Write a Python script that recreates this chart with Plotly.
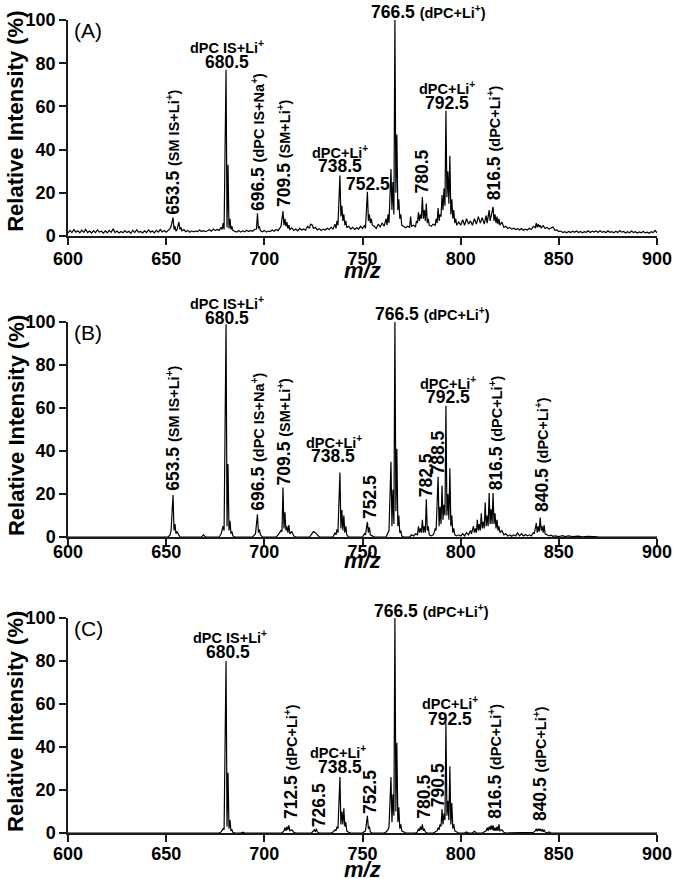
import plotly.graph_objects as go

FONT = 'Liberation Sans, Arial, Helvetica, sans-serif'

# ---------------------------------------------------------------------------
# (A) profile spectrum: m/z and relative intensity (%)
# ---------------------------------------------------------------------------
mz_a = [
    600, 601, 602, 603, 604, 605, 606, 607, 608, 609,
    610, 611, 612, 613, 614, 615, 616, 617, 618, 619,
    620, 621, 622, 623, 624, 625, 626, 627, 628, 629,
    630, 631, 632, 633, 634, 635, 636, 637, 638, 639,
    640, 641, 642, 643, 644, 645, 646, 647, 648, 649,
    650, 651, 652, 652.5, 653.5, 654, 654.5, 655, 655.5, 656.5,
    657, 657.5, 658, 659, 660, 661, 662, 663, 664, 665,
    666, 667, 668, 669, 670, 671, 672, 673, 674, 675,
    676, 677, 678, 678.5, 679, 679.5, 680.5, 681, 681.5, 682,
    682.5, 683, 683.5, 684, 685, 686, 687, 688, 689, 690,
    691, 692, 693, 694, 695, 696, 696.5, 697, 697.5, 698,
    699, 700, 701, 702, 703, 704, 705, 706, 707, 708,
    708.5, 709.5, 710, 710.5, 711, 711.5, 712, 712.5, 713, 714,
    715, 716, 717, 718, 719, 720, 721, 722, 723, 723.5,
    724.5, 725, 726, 727, 728, 729, 730, 731, 732, 733,
    734, 735, 736, 736.5, 737, 737.5, 738.5, 739, 739.5, 740,
    740.5, 741, 741.5, 742, 743, 744, 745, 746, 747, 748,
    749, 750, 751, 751.5, 752.5, 753, 753.5, 754, 754.5, 755,
    756, 757, 758, 759, 760, 761, 762, 762.5, 763, 763.5,
    764.5, 765, 765.5, 766, 766.5, 767, 767.5, 768, 768.5, 769,
    769.5, 770, 771, 772, 773, 774, 774.5, 775, 776, 777,
    777.5, 778, 778.5, 779, 779.5, 780, 780.5, 781, 781.5, 782,
    782.5, 783, 783.5, 784, 785, 786, 787, 787.5, 788, 788.5,
    789, 789.5, 790, 790.5, 791, 791.5, 792, 792.5, 793, 793.5,
    794, 794.5, 795, 795.5, 796, 796.5, 797, 797.5, 798, 799,
    800, 801, 802, 803, 804, 805, 806, 807, 808, 809,
    810, 811, 812, 813, 813.5, 814.5, 815, 815.5, 816.5, 817,
    817.5, 818, 818.5, 819, 819.5, 820, 821, 822, 823, 824,
    825, 826, 827, 828, 829, 830, 831, 832, 833, 834,
    835, 836, 837, 838, 838.5, 839, 839.5, 840, 840.5, 841,
    842, 843, 844, 845, 846, 847, 848, 849, 850, 851,
    852, 853, 854, 855, 856, 857, 858, 859, 860, 861,
    862, 863, 864, 865, 866, 867, 868, 869, 870, 871,
    872, 873, 874, 875, 876, 877, 878, 879, 880, 881,
    882, 883, 884, 885, 886, 887, 888, 889, 890, 891,
    892, 893, 894, 895, 896, 897, 898, 899, 900,
]
int_a = [
    1.4, 2.6, 1.6, 3.0, 1.8, 2.4, 1.5, 2.7, 1.7, 3.1,
    1.6, 2.3, 1.4, 2.5, 1.6, 2.8, 1.8, 2.2, 1.3, 2.4,
    1.5, 2.6, 1.7, 3.3, 1.6, 2.3, 1.4, 2.1, 1.5, 2.5,
    1.6, 2.2, 1.3, 2.7, 1.6, 2.9, 1.7, 2.1, 1.4, 2.4,
    1.6, 2.8, 1.8, 2.3, 1.5, 2.6, 1.8, 3.0, 1.9, 2.5,
    1.8, 2.6, 3.5, 4.5, 8.5, 3.0, 4.5, 2.2, 2.8, 6.5,
    3.0, 4.0, 2.4, 3.0, 2.0, 2.6, 1.8, 2.4, 1.9, 2.3,
    2.0, 2.8, 2.1, 2.5, 2.0, 2.4, 2.9, 2.2, 3.2, 2.5,
    3.0, 2.6, 4.0, 3.0, 6.0, 3.0, 77, 4.0, 33, 3.5,
    8.0, 3.0, 4.5, 2.5, 2.2, 1.8, 2.5, 1.8, 2.4, 2.0,
    2.7, 2.1, 2.6, 2.2, 3.0, 3.2, 10.5, 3.5, 4.5, 2.5,
    2.0, 2.6, 1.8, 2.3, 2.0, 2.8, 2.2, 3.0, 2.5, 3.5,
    4.5, 11.5, 5.0, 8.0, 4.5, 6.5, 3.5, 5.0, 3.0, 3.8,
    2.6, 3.2, 2.4, 3.5, 2.8, 3.3, 2.7, 4.5, 3.5, 5.5,
    5.0, 3.5, 4.0, 2.8, 3.4, 2.6, 3.2, 2.8, 3.6, 3.0,
    4.0, 3.2, 5.5, 3.5, 7.0, 5.0, 28, 9.0, 14, 7.0,
    10, 5.0, 7.0, 4.0, 4.5, 3.2, 4.0, 3.0, 3.8, 3.2,
    4.5, 3.5, 5.0, 3.5, 20.5, 7.0, 10, 6.0, 8.0, 5.0,
    4.5, 3.5, 5.5, 4.2, 6.0, 4.5, 8.0, 5.0, 10, 6.0,
    31, 12, 25, 10, 100, 20, 47, 12, 17, 8.0,
    10, 5.0, 4.5, 3.8, 4.5, 4.0, 9.0, 4.5, 5.0, 4.2,
    7.0, 6.0, 11, 7.0, 10, 8.0, 18, 8.0, 12, 7.0,
    15, 6.0, 8.0, 5.0, 4.5, 5.5, 5.0, 8.0, 6.0, 13,
    7.0, 10, 9.0, 19, 12, 22, 14, 58, 18, 30,
    15, 37, 10, 17, 8.0, 12, 6.0, 8.0, 5.0, 6.5,
    5.0, 7.5, 5.0, 8.0, 5.5, 7.0, 5.0, 8.0, 5.5, 9.0,
    6.0, 8.5, 5.5, 9.5, 6.0, 12, 7.0, 9.0, 13.5, 7.0,
    10, 6.0, 9.0, 5.5, 8.0, 5.0, 6.5, 4.0, 4.5, 3.5,
    4.0, 3.2, 3.6, 3.0, 3.4, 2.8, 3.5, 2.7, 3.2, 2.8,
    3.6, 3.0, 4.5, 3.8, 6.0, 4.0, 5.5, 4.2, 5.0, 3.8,
    4.8, 3.5, 4.0, 3.2, 3.6, 4.2, 2.6, 2.8, 2.0, 2.3,
    1.6, 2.0, 1.5, 2.1, 1.6, 2.2, 1.7, 2.3, 1.6, 2.1,
    1.5, 2.0, 1.7, 2.4, 1.6, 2.2, 1.8, 2.3, 1.6, 2.5,
    1.7, 2.1, 1.5, 2.4, 1.7, 2.0, 1.5, 2.2, 1.6, 2.5,
    1.8, 2.1, 1.4, 2.0, 1.5, 2.3, 1.6, 2.0, 1.4, 1.9,
    1.5, 2.1, 1.5, 1.8, 1.3, 2.0, 1.6, 2.6, 1.5,
]

# ---------------------------------------------------------------------------
# (B)
# ---------------------------------------------------------------------------
mz_b = [
    600, 651, 652, 652.5, 653.5, 654, 654.5, 655, 655.5, 656.5,
    657, 668, 669, 670, 677, 678, 678.5, 679, 679.5, 680.5,
    681, 681.5, 682, 682.5, 683, 683.5, 684, 685, 694, 695,
    695.5, 696.5, 697, 697.5, 698, 699, 706, 707, 708, 708.5,
    709, 709.5, 710, 710.5, 711, 711.5, 712, 712.5, 713, 714,
    715, 716, 723, 724, 725, 726, 727, 728, 735, 736,
    736.5, 737, 737.5, 738.5, 739, 739.5, 740, 740.5, 741, 741.5,
    742, 743, 750, 751, 751.5, 752.5, 753, 753.5, 754, 755,
    756, 762, 762.5, 763, 763.5, 764.5, 765, 765.5, 766, 766.5,
    767, 767.5, 768, 768.5, 769, 769.5, 770, 771, 774, 775,
    776, 777, 778, 778.5, 779, 779.5, 780, 780.5, 781, 781.5,
    782, 782.5, 783, 783.5, 784, 785, 786, 786.5, 787, 787.5,
    788.5, 789, 789.5, 790, 790.5, 791, 791.5, 792, 792.5, 793,
    793.5, 794, 794.5, 795, 795.5, 796, 796.5, 797, 798, 799,
    800, 801, 802, 803, 804, 805, 805.5, 806.5, 807, 807.5,
    808, 808.5, 809, 809.5, 810, 810.5, 811, 811.5, 812, 812.5,
    813, 813.5, 814, 814.5, 815, 815.5, 816, 816.5, 817, 817.5,
    818, 818.5, 819, 819.5, 820, 821, 822, 823, 824, 825,
    826, 827, 828, 829, 830, 831, 832, 833, 834, 835,
    836, 837, 837.5, 838.5, 839, 839.5, 840, 840.5, 841, 841.5,
    842, 842.5, 843, 844, 845, 846, 847, 848, 850, 852,
    853, 855, 857, 860, 862, 865, 870, 900,
]
int_b = [
    0, 0, 1.0, 3.0, 19.5, 3.0, 6.0, 1.5, 2.5, 1.0,
    0, 0, 1.0, 0, 0, 1.5, 3.0, 5.0, 3.0, 99,
    5.0, 34, 3.0, 7.5, 1.5, 2.5, 0.5, 0, 0, 0.8,
    1.5, 10.5, 2.0, 3.5, 1.0, 0, 0, 1.0, 2.0, 3.0,
    2.5, 23, 4.0, 11.5, 3.0, 5.0, 2.0, 5.5, 1.5, 2.5,
    0.5, 0, 0, 1.5, 2.5, 2.0, 1.0, 0, 0, 2.0,
    1.0, 3.5, 2.0, 30, 4.0, 12.5, 3.0, 10, 2.0, 5.0,
    1.0, 0, 0, 1.5, 1.0, 7.0, 2.0, 4.5, 1.0, 0.5,
    0, 0, 1.0, 2.0, 3.0, 35, 5.0, 22, 6.0, 100,
    12, 41, 5.0, 10, 2.0, 3.0, 0.5, 0, 0, 1.0,
    0.5, 1.5, 1.0, 5.0, 2.0, 4.0, 2.0, 8.0, 2.0, 5.0,
    2.0, 17.5, 3.0, 5.0, 1.0, 0.5, 1.0, 2.0, 4.0, 3.0,
    28, 5.0, 14, 6.0, 24, 8.0, 15, 10, 61, 10,
    20, 8.0, 32, 5.0, 10, 2.0, 4.0, 1.0, 0.5, 1.0,
    0.5, 1.5, 0.5, 2.0, 1.0, 3.0, 1.5, 5.0, 2.0, 4.0,
    2.0, 8.0, 3.0, 6.0, 3.0, 11, 4.0, 7.0, 4.0, 16,
    5.0, 10, 5.0, 20.5, 6.0, 13, 6.0, 20.5, 6.0, 11,
    4.0, 8.0, 3.0, 5.0, 2.0, 3.0, 1.0, 1.5, 0.5, 1.0,
    0.3, 1.0, 0.5, 1.8, 0.5, 1.5, 0.5, 1.2, 0.5, 1.0,
    0.5, 2.0, 1.5, 6.5, 2.0, 5.0, 2.5, 9.0, 3.0, 5.0,
    2.0, 5.5, 1.5, 1.0, 0.5, 0.8, 0.3, 0.5, 0.2, 0.6,
    0.2, 0.5, 0.2, 0.4, 0.1, 0.3, 0.1, 0,
]

# ---------------------------------------------------------------------------
# (C)
# ---------------------------------------------------------------------------
mz_c = [
    600, 677, 678, 679, 679.5, 680.5, 681, 681.5, 682, 682.5,
    683, 683.5, 684, 685, 688, 689, 690, 709, 710, 710.5,
    711, 711.5, 712, 712.5, 713, 714, 715, 716, 724, 725.5,
    726, 726.5, 727, 728, 734, 735, 736, 736.5, 737, 737.5,
    738.5, 739, 739.5, 740, 740.5, 741, 741.5, 742, 743, 744,
    750, 751, 751.5, 752.5, 753, 753.5, 754, 755, 761, 762,
    763, 763.5, 764.5, 765, 765.5, 766, 766.5, 767, 767.5, 768,
    768.5, 769, 769.5, 770, 771, 772, 777, 778, 778.5, 779,
    779.5, 780, 780.5, 781, 781.5, 782, 783, 786, 787, 788,
    788.5, 789, 789.5, 790, 790.5, 791, 791.5, 792, 792.5, 793,
    793.5, 794, 794.5, 795, 795.5, 796, 796.5, 797, 798, 799,
    802, 803, 804, 806, 807, 808, 811, 812, 813, 813.5,
    814, 814.5, 815, 815.5, 816, 816.5, 817, 817.5, 818, 818.5,
    819, 819.5, 820, 821, 822, 823, 836, 837, 838, 838.5,
    839, 839.5, 840, 840.5, 841, 841.5, 842, 842.5, 843, 844,
    845, 846, 900,
]
int_c = [
    0, 0, 0.5, 2.0, 1.5, 80, 3.0, 28, 2.0, 6.0,
    1.0, 1.5, 0.3, 0, 0, 0.4, 0, 0, 1.0, 2.5,
    1.0, 3.0, 1.5, 3.5, 1.0, 1.5, 0.3, 0, 0, 1.5,
    0.5, 2.0, 0.5, 0, 0, 0.5, 1.5, 1.0, 3.0, 2.0,
    26, 4.0, 10, 4.0, 11.5, 3.0, 5.0, 1.0, 0.3, 0,
    0, 0.5, 1.0, 8.0, 2.0, 3.0, 0.5, 0, 0, 0.5,
    1.5, 3.0, 26, 5.0, 18, 8.0, 100, 10, 42, 5.0,
    12, 2.0, 4.0, 1.0, 0.5, 0, 0, 0.5, 2.0, 1.0,
    3.0, 1.5, 4.0, 1.0, 2.0, 0.5, 0, 0, 0.5, 1.0,
    2.5, 1.5, 4.0, 3.0, 11, 4.0, 9.0, 6.0, 51, 8.0,
    15, 6.0, 31, 4.0, 14, 2.0, 4.0, 1.0, 0.5, 0,
    0, 0.5, 0, 0, 0.8, 0, 0, 0.5, 1.0, 2.5,
    1.0, 3.0, 1.5, 3.5, 1.5, 3.5, 1.0, 2.5, 1.0, 3.0,
    1.0, 4.0, 1.0, 1.5, 0.3, 0, 0, 0.3, 1.0, 2.0,
    0.8, 2.0, 1.0, 2.0, 0.8, 1.8, 0.6, 1.5, 0.5, 0,
    0.5, 0, 0,
]

x_ticks = [600, 650, 700, 750, 800, 850, 900]
y_ticks = [0, 20, 40, 60, 80, 100]

assert len(mz_a) == len(int_a)
assert len(mz_b) == len(int_b)
assert len(mz_c) == len(int_c)

####################################################################################
# LABELS (text, anchor m/z, anchor intensity in %)
####################################################################################

LI = 'Li<sup>+</sup>'
NA = 'Na<sup>+</sup>'
NOTE_SIZE = 14.5

# horizontal, centred
center_labels = {
    'a': [('dPC IS+' + LI, 681, 87.5, NOTE_SIZE), ('680.5', 681, 80.5, 17.5),
          ('dPC+' + LI, 738.7, 38.9, NOTE_SIZE), ('738.5', 738.7, 32.6, 17.5),
          ('752.5', 752.6, 24, 17.5),
          ('dPC+' + LI, 793.2, 68.7, NOTE_SIZE), ('792.5', 793.2, 61.8, 17.5)],
    'b': [('dPC IS+' + LI, 681.2, 109, NOTE_SIZE), ('680.5', 681.2, 102, 17.5),
          ('dPC+' + LI, 735.4, 44, NOTE_SIZE), ('738.5', 735, 37.7, 17.5),
          ('dPC+' + LI, 793.3, 71.6, NOTE_SIZE), ('792.5', 793.3, 64.9, 17.5)],
    'c': [('dPC IS+' + LI, 682.5, 91.2, NOTE_SIZE), ('680.5', 681.5, 84, 17.5),
          ('dPC+' + LI, 737.5, 37.7, NOTE_SIZE), ('738.5', 738.3, 30.5, 17.5),
          ('dPC+' + LI, 794.8, 60.5, NOTE_SIZE), ('792.5', 794.6, 53, 17.5)],
}

# horizontal, left anchored (number + note)
left_labels = {
    'a': [('766.5', '(dPC+' + LI + ')', 753.3, 103.5)],
    'b': [('766.5', '(dPC+' + LI + ')', 755.4, 103.7)],
    'c': [('766.5', '(dPC+' + LI + ')', 754.9, 103.3)],
}

# rotated, bottom anchored (number, note, m/z, intensity of the text bottom)
vertical_labels = {
    'a': [('653.5', '(SM IS+' + LI + ')', 653.7, 9.4),
          ('696.5', '(dPC IS+' + NA + ')', 696.5, 11.3),
          ('709.5', '(SM+' + LI + ')', 710.0, 13),
          ('780.5', '', 780.1, 19),
          ('816.5', '(dPC+' + LI + ')', 817.0, 15.9)],
    'b': [('653.5', '(SM IS+' + LI + ')', 653.7, 21),
          ('696.5', '(dPC IS+' + NA + ')', 696.8, 11.8),
          ('709.5', '(SM+' + LI + ')', 710.5, 23.5),
          ('752.5', '', 753.8, 7.9),
          ('782.5', '', 782.4, 18.1),
          ('788.5', '', 788.7, 28.8),
          ('816.5', '(dPC+' + LI + ')', 818.0, 21),
          ('840.5', '(dPC+' + LI + ')', 841.7, 11.2)],
    'c': [('712.5', '(dPC+' + LI + ')', 713.3, 6),
          ('726.5', '', 727.9, 2.3),
          ('752.5', '', 753.8, 8.4),
          ('780.5', '', 781.6, 6),
          ('790.5', '', 788.5, 11.6),
          ('816.5', '(dPC+' + LI + ')', 817.5, 6),
          ('840.5', '(dPC+' + LI + ')', 840.4, 5.3)],
}

panels = [
    {'key': 'a', 'name': '(A)', 'mz': mz_a, 'y': int_a, 'domain': [0.7343, 1.0],
     'ytitle': 0.876, 'xtitle': 0.6913, 'standoff': -1},
    {'key': 'b', 'name': '(B)', 'mz': mz_b, 'y': int_b, 'domain': [0.3641, 0.6285],
     'ytitle': 0.5018, 'xtitle': 0.3352, 'standoff': -9},
    {'key': 'c', 'name': '(C)', 'mz': mz_c, 'y': int_c, 'domain': [0.0, 0.2644],
     'ytitle': 0.1378, 'xtitle': -0.0443, 'standoff': -3},
]


def axis_style(ticks, rng):
    return dict(range=rng, tickmode='array', tickvals=ticks,
                ticktext=['<b>%d</b>' % t for t in ticks],
                showline=True, linecolor='#1a1a1a', linewidth=1.5,
                ticks='outside', ticklen=7, tickwidth=1.5, tickcolor='#1a1a1a',
                showgrid=False, zeroline=False, fixedrange=True, automargin=False,
                tickfont=dict(family=FONT, size=18, color='black'))


def bold(size):
    return dict(family=FONT, size=size, color='black', weight='bold')


def with_note(num, note):
    if not note:
        return num
    return num + ' <span style="font-size:%spx">%s</span>' % (NOTE_SIZE, note)


fig = go.Figure()
annotations = []

for i, p in enumerate(panels):
    n = '' if i == 0 else str(i + 1)
    xref, yref = 'x' + n, 'y' + n
    ydom = yref + ' domain'

    fig.add_trace(go.Scatter(x=p['mz'], y=p['y'], mode='lines',
                             line=dict(color='black', width=1.2),
                             xaxis=xref, yaxis=yref, showlegend=False,
                             hoverinfo='x+y'))

    xa = axis_style(x_ticks, [600, 900])
    xa.update(anchor=yref, domain=[0, 1], ticklabelstandoff=p['standoff'])
    ya = axis_style(y_ticks, [0, 100])
    ya.update(anchor=xref, domain=p['domain'])
    fig.update_layout({'xaxis' + n: xa, 'yaxis' + n: ya})

    # panel letter
    annotations.append(dict(text=p['name'], x=601.8, y=0.95, xref=xref, yref=ydom,
                            xanchor='left', yanchor='middle', showarrow=False,
                            font=dict(family=FONT, size=21, color='black')))

    for text, x, y, size in center_labels[p['key']]:
        annotations.append(dict(text=text, x=x, y=y / 100, xref=xref, yref=ydom,
                                xanchor='center', yanchor='middle', showarrow=False,
                                font=bold(size)))

    for num, note, x, y in left_labels[p['key']]:
        annotations.append(dict(text=with_note(num, note), x=x, y=y / 100, xref=xref, yref=ydom,
                                xanchor='left', yanchor='middle', showarrow=False,
                                font=bold(17.5)))

    for num, note, x, y in vertical_labels[p['key']]:
        annotations.append(dict(text=with_note(num, note), x=x, y=y / 100, xref=xref, yref=ydom,
                                textangle=-90, xanchor='center', yanchor='bottom',
                                showarrow=False, borderpad=0, font=bold(17.5)))

    # axis titles
    annotations.append(dict(text='<b>Relative Intensity (%)</b>', x=-0.0883, y=p['ytitle'],
                            xref='paper', yref='paper', textangle=-90,
                            xanchor='center', yanchor='middle', showarrow=False,
                            font=dict(family=FONT, size=22, color='black')))
    annotations.append(dict(text='<b><i>m/z</i></b>', x=0.5008, y=p['xtitle'],
                            xref='paper', yref='paper',
                            xanchor='center', yanchor='middle', showarrow=False,
                            font=dict(family=FONT, size=22, color='black')))

fig.update_layout(width=676, height=879,
                  margin=dict(l=68, r=19, t=20, b=46, autoexpand=False),
                  paper_bgcolor='white', plot_bgcolor='white',
                  annotations=annotations, showlegend=False)

fig.write_html('out.html', config={'displayModeBar': False},
               post_script="document.body.style.margin='0';"
                           "document.body.style.overflow='hidden';")
